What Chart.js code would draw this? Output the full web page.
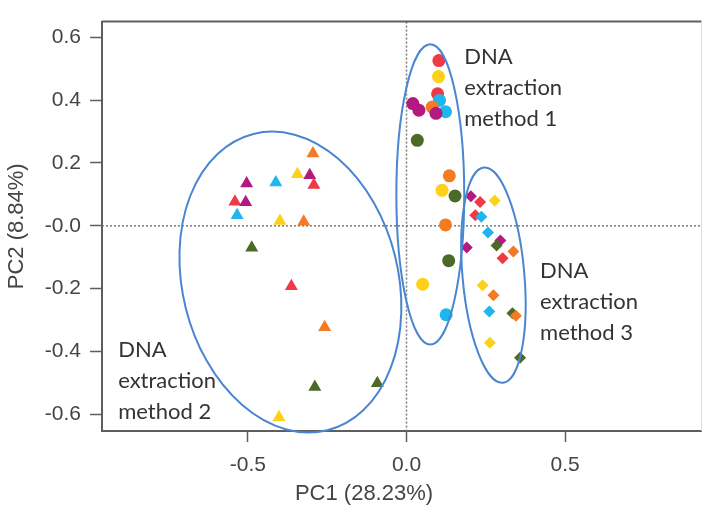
<!DOCTYPE html>
<html>
<head>
<meta charset="utf-8">
<script src="https://cdn.jsdelivr.net/npm/chart.js@4/dist/chart.umd.min.js"></script>
<style>
html,body{margin:0;padding:0;background:#fff;}
#wrap{width:709px;height:506px;}
</style>
</head>
<body>
<div id="wrap"><canvas id="c" width="709" height="506"></canvas></div>
<script>
// ---- DATA ----
// sample groups (each drawn in its own colour)
const groups = ['g1','g2','g3','g4','g5','g6'];

// DNA extraction method 1 (circles)
const m1X = [0.102,0.101,0.098,0.104,0.020,0.039,0.081,0.123,0.093,0.034,0.135,0.112,0.153,0.123,0.133,0.051,0.125];
const m1Y = [0.526,0.475,0.420,0.399,0.389,0.368,0.378,0.363,0.358,0.272,0.159,0.113,0.095,0.003,-0.111,-0.186,-0.283];
const m1G = ['g1','g2','g1','g3','g4','g4','g5','g3','g4','g6','g5','g2','g6','g5','g6','g2','g3'];

// DNA extraction method 2 (triangles)
const m2X = [-0.295,-0.344,-0.305,-0.292,-0.412,-0.504,-0.541,-0.507,-0.534,-0.399,-0.324,-0.488,-0.363,-0.258,-0.289,-0.092,-0.402];
const m2Y = [0.230,0.164,0.161,0.130,0.138,0.135,0.077,0.075,0.034,0.015,0.013,-0.070,-0.192,-0.323,-0.513,-0.501,-0.609];
const m2G = ['g5','g2','g4','g1','g3','g4','g1','g4','g3','g2','g5','g6','g1','g5','g6','g6','g2'];

// DNA extraction method 3 (diamonds)
const m3X = [0.203,0.232,0.278,0.217,0.236,0.257,0.296,0.284,0.337,0.190,0.303,0.240,0.274,0.261,0.334,0.345,0.263,0.358];
const m3Y = [0.094,0.076,0.081,0.034,0.029,-0.021,-0.047,-0.063,-0.082,-0.069,-0.103,-0.189,-0.221,-0.273,-0.278,-0.286,-0.372,-0.420];
const m3G = ['g4','g1','g2','g1','g3','g3','g4','g6','g5','g4','g1','g2','g5','g3','g6','g5','g2','g6'];

const methodNames = ['DNA extraction method 1','DNA extraction method 2','DNA extraction method 3'];

// axis ticks
const xTickValues = [-0.5, 0, 0.5];
const xTickLabels = ['-0.5', '0.0', '0.5'];
const yTickValues = [0.6, 0.4, 0.2, 0, -0.2, -0.4, -0.6];
const yTickLabels = ['0.6', '0.4', '0.2', '-0.0', '-0.2', '-0.4', '-0.6'];
const xTitle = 'PC1 (28.23%)';
const yTitle = 'PC2 (8.84%)';

// ---- STYLE ----
const groupColors = {g1:'#ee3a46', g2:'#fdd11a', g3:'#1fb5ee', g4:'#b4197f', g5:'#f47b22', g6:'#4b6a27'};
const shapes = ['circle','triangle','rectRot'];
const radii = [6.5, 7.5, 6];

// ellipses (data units): centre, semi-axes, rotation (deg)
const ellipses = [
  {cx:0.075, cy:0.100, rx:0.107, ry:0.478, rot:0},
  {cx:-0.366, cy:-0.179, rx:0.340, ry:0.486, rot:-14},
  {cx:0.274, cy:-0.157, rx:0.0975, ry:0.344, rot:-5}
];
// label anchors (data units, first baseline)
const labelSpots = [
  {x:0.182, y:0.515, lines:['DNA','extraction','method 1']},
  {x:-0.909, y:-0.419, lines:['DNA','extraction','method 2']},
  {x:0.421, y:-0.166, lines:['DNA','extraction','method 3']}
];

const axisFont = '"Liberation Sans", Arial, sans-serif';

function mk(xs, ys, gs, i){
  return {
    label: methodNames[i],
    data: xs.map((x,k)=>({x:x, y:ys[k]})),
    pointStyle: shapes[i],
    pointRadius: radii[i],
    pointBackgroundColor: gs.map(g=>groupColors[g]),
    pointBorderColor: gs.map(g=>groupColors[g]),
    pointBorderWidth: 0,
    showLine:false
  };
}

const decor = {
  id:'decor',
  beforeDatasetsDraw(chart){
    const {ctx, chartArea:a, scales:{x,y}} = chart;
    ctx.save();
    // zero lines
    ctx.strokeStyle = '#7a7a7a';
    ctx.lineWidth = 1.5;
    ctx.setLineDash([2,2]);
    const x0 = x.getPixelForValue(0), y0 = y.getPixelForValue(0);
    ctx.beginPath(); ctx.moveTo(x0, a.top); ctx.lineTo(x0, a.bottom); ctx.stroke();
    ctx.beginPath(); ctx.moveTo(a.left, y0); ctx.lineTo(a.right, y0); ctx.stroke();
    ctx.setLineDash([]);
    // frame
    ctx.strokeStyle = '#5e5e5e'; ctx.lineWidth = 2;
    ctx.beginPath(); ctx.moveTo(a.left, a.top); ctx.lineTo(a.right, a.top); ctx.stroke();
    ctx.strokeStyle = '#dddddd'; ctx.lineWidth = 1;
    ctx.beginPath(); ctx.moveTo(a.right, a.top); ctx.lineTo(a.right, a.bottom); ctx.stroke();
    // x axis title (offset to the left as in the reference)
    ctx.fillStyle = '#444';
    ctx.font = '22px ' + axisFont;
    ctx.textAlign = 'center';
    ctx.textBaseline = 'middle';
    ctx.fillText(xTitle, 364, 494);
    ctx.restore();
  },
  afterDatasetsDraw(chart){
    const {ctx, scales:{x,y}} = chart;
    ctx.save();
    ctx.strokeStyle = '#4a86d0';
    ctx.lineWidth = 2;
    ellipses.forEach(e=>{
      const cx = x.getPixelForValue(e.cx), cy = y.getPixelForValue(e.cy);
      const rx = Math.abs(x.getPixelForValue(e.cx+e.rx)-cx);
      const ry = Math.abs(y.getPixelForValue(e.cy+e.ry)-cy);
      ctx.beginPath();
      ctx.ellipse(cx, cy, rx, ry, e.rot*Math.PI/180, 0, Math.PI*2);
      ctx.stroke();
    });
    ctx.fillStyle = '#333333';
    ctx.font = '22px Lato';
    ctx.textAlign = 'left';
    ctx.textBaseline = 'alphabetic';
    labelSpots.forEach(l=>{
      const px = x.getPixelForValue(l.x), py = y.getPixelForValue(l.y);
      l.lines.forEach((t,k)=>ctx.fillText(t, px, py + k*31));
    });
    ctx.restore();
  }
};

const tickFont = {family:axisFont, size:21};
const titleFont = {family:axisFont, size:22};

new Chart(document.getElementById('c'), {
  type:'scatter',
  data:{datasets:[mk(m1X,m1Y,m1G,0), mk(m2X,m2Y,m2G,1), mk(m3X,m3Y,m3G,2)]},
  options:{
    responsive:false,
    animation:false,
    layout:{padding:{top:14, right:6, left:0, bottom:0}},
    plugins:{legend:{display:false}, tooltip:{enabled:false}},
    scales:{
      x:{
        type:'linear', min:-0.96, max:0.93,
        afterBuildTicks:s=>{ s.ticks = xTickValues.map(v=>({value:v})); },
        afterFit:s=>{ s.height = 75; },
        ticks:{callback:(v,i)=>xTickLabels[i], font:tickFont, color:'#444', padding:11, maxRotation:0, autoSkip:false},
        grid:{drawOnChartArea:false, tickLength:11, tickColor:'#5e5e5e', tickWidth:1.5},
        border:{color:'#5e5e5e', width:2},
        title:{display:false}
      },
      y:{
        type:'linear', min:-0.653, max:0.65,
        afterBuildTicks:s=>{ s.ticks = yTickValues.map(v=>({value:v})); },
        afterFit:s=>{ s.width = 102; },
        ticks:{callback:(v,i)=>yTickLabels[i], font:tickFont, color:'#444', padding:9, autoSkip:false},
        grid:{drawOnChartArea:false, tickLength:12, tickColor:'#5e5e5e', tickWidth:1.5},
        border:{color:'#5e5e5e', width:2},
        title:{display:true, text:yTitle, font:titleFont, color:'#444', padding:{top:4,bottom:0}}
      }
    }
  },
  plugins:[decor]
});
</script>
</body>
</html>
